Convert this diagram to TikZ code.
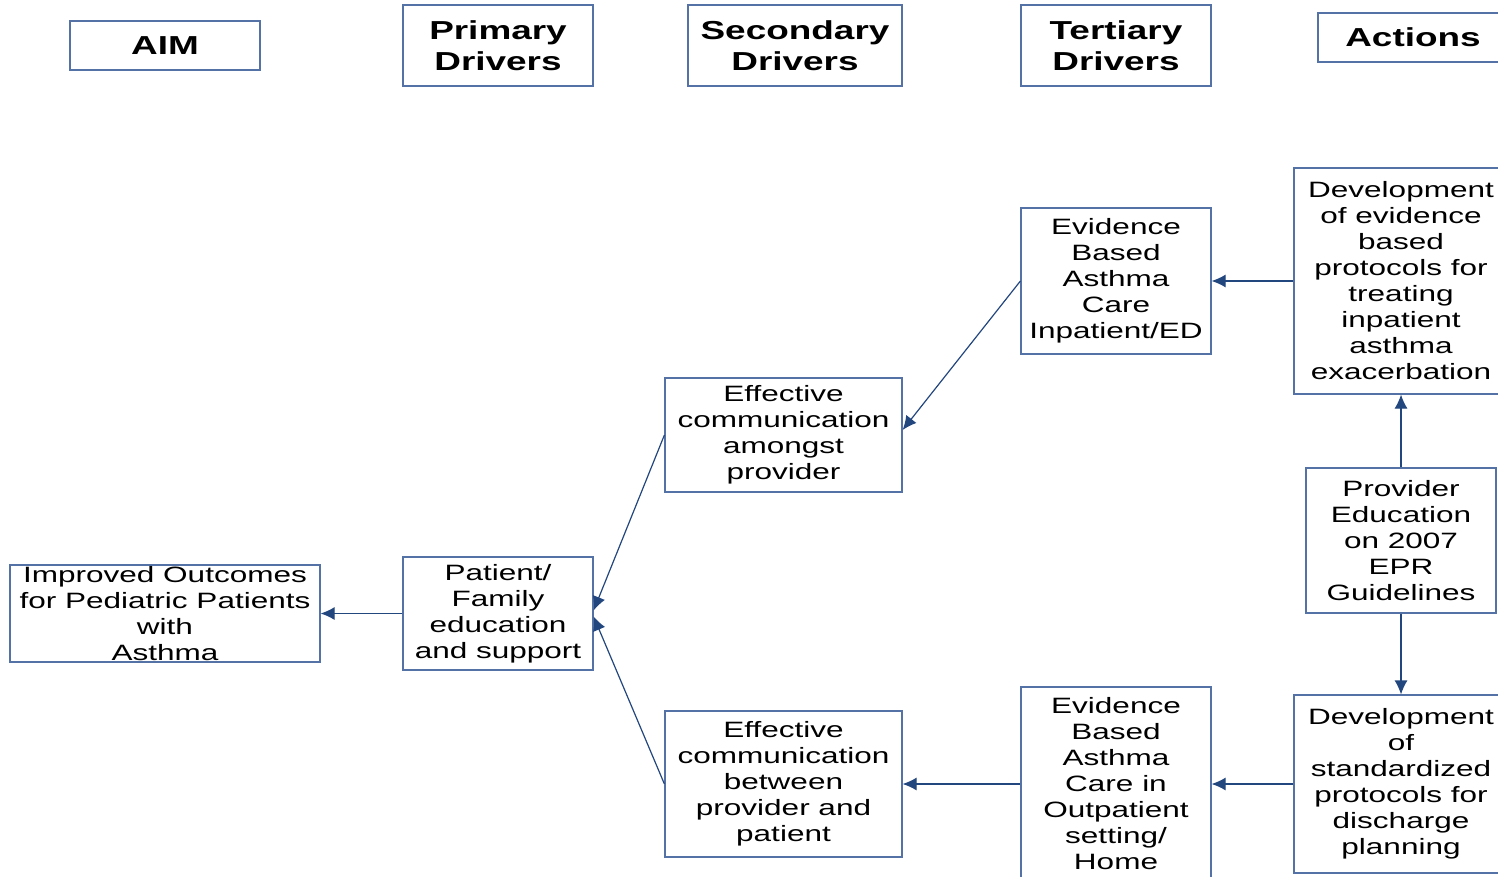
\documentclass[tikz,border=0pt]{standalone}
\usepackage{fontspec}
\usepackage{tikz}
\usetikzlibrary{arrows.meta,positioning}
\newfontfamily\widesans[FakeStretch=1.42]{Liberation Sans}
\definecolor{boxblue}{RGB}{84,114,166}
\definecolor{arrowblue}{RGB}{34,70,126}
\tikzstyle{arrow} = [draw=arrowblue, line width=0.6pt, -{Latex[length=7pt,width=6.5pt]}]
\tikzset{
 hdr/.style
  = {rectangle, draw=boxblue, line width=0.6pt, inner sep=0pt, align=center,
     font={\widesans\bfseries\fontsize{13}{15.5}\selectfont}},
 box/.style
  = {rectangle, draw=boxblue, line width=0.6pt, inner sep=0pt, align=center,
     font={\widesans\fontsize{11.1}{13}\selectfont}},
}
\begin{document}
\begin{tikzpicture}[x=0.5pt, y=-0.5pt]
\useasboundingbox (0,0) rectangle (1498,877);

% Column headers
\node[hdr, minimum width=95pt, minimum height=24.5pt] (hAim) at (165,45.5) {AIM};
\node[hdr, minimum width=95pt, minimum height=40.5pt] (hPri) at (498,45.5) {Primary\\Drivers};
\node[hdr, minimum width=107pt, minimum height=40.5pt] (hSec) at (795,45.5) {Secondary\\Drivers};
\node[hdr, minimum width=95pt, minimum height=40.5pt] (hTer) at (1116,45.5) {Tertiary\\Drivers};
\node[hdr, minimum width=95pt, minimum height=24.5pt] (hAct) at (1413,37.5) {Actions};

% Aim
\node[box, minimum width=155pt, minimum height=48.5pt] (aim) at (165,613.5)
  {Improved Outcomes\\for Pediatric Patients\\with\\Asthma};

% Primary driver
\node[box, minimum width=95pt, minimum height=56.5pt] (pri) at (498,613.5)
  {Patient/\\Family\\education\\and support};

% Secondary drivers
\node[box, minimum width=118.5pt, minimum height=57pt] (secA) at (783.5,435)
  {Effective\\communication\\amongst\\provider};
\node[box, minimum width=118.5pt, minimum height=73pt] (secB) at (783.5,784)
  {Effective\\communication\\between\\provider and\\patient};

% Tertiary drivers
\node[box, minimum width=95pt, minimum height=73pt] (terA) at (1116,281)
  {Evidence\\Based\\Asthma\\Care\\Inpatient/ED};
\node[box, minimum width=95pt, minimum height=97pt] (terB) at (1116,784)
  {Evidence\\Based\\Asthma\\Care in\\Outpatient\\setting/\\Home};

% Actions
\node[box, minimum width=107pt, minimum height=113pt] (actA) at (1401,281)
  {Development\\of evidence\\based\\protocols for\\treating\\inpatient\\asthma\\exacerbation};
\node[box, minimum width=95pt, minimum height=72.5pt] (actB) at (1401,540.5)
  {Provider\\Education\\on 2007\\EPR\\Guidelines};
\node[box, minimum width=107pt, minimum height=89pt] (actC) at (1401,784)
  {Development\\of\\standardized\\protocols for\\discharge\\planning};

% Connectors
\draw[arrow] (pri.west) -- (aim.east);
\draw[arrow] (secA.west) -- ([yshift=1.5pt]pri.east);
\draw[arrow] (secB.west) -- ([yshift=-1.5pt]pri.east);
\draw[arrow] (terA.west) -- ([yshift=2.5pt]secA.east);
\draw[arrow] (terB.west) -- (secB.east);
\draw[arrow] (actA.west) -- (terA.east);
\draw[arrow] (actC.west) -- (terB.east);
\draw[arrow] (actB.north) -- (actA.south);
\draw[arrow] (actB.south) -- (actC.north);

\end{tikzpicture}
\end{document}
